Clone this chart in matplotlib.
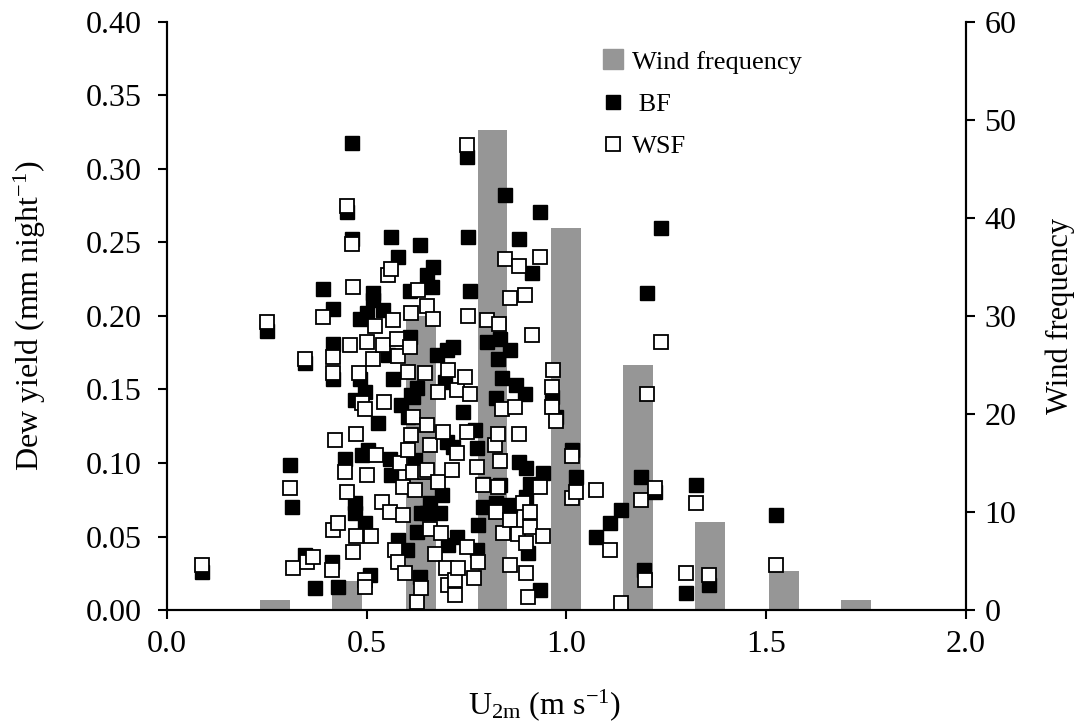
import numpy as np
import matplotlib
matplotlib.use('Agg')
import matplotlib.pyplot as plt
from matplotlib.lines import Line2D

# ── data ──
# wind frequency histogram (right axis)
wind_bins = [0.27, 0.45, 0.635, 0.815, 1.0, 1.18, 1.36, 1.545, 1.725]
wind_freq = [1, 3, 30, 49, 39, 25, 9, 4, 1]

# dew yield, BF (black squares)
bf_u = [0.087, 0.251, 0.308, 0.312, 0.345, 0.345, 0.37, 0.391, 0.412, 0.416,
        0.416, 0.416, 0.429, 0.446, 0.45, 0.462, 0.462, 0.47, 0.47, 0.47,
        0.483, 0.483, 0.487, 0.496, 0.496, 0.5, 0.504, 0.508, 0.516, 0.516,
        0.529, 0.541, 0.554, 0.558, 0.562, 0.562, 0.566, 0.579, 0.579, 0.587,
        0.6, 0.604, 0.608, 0.608, 0.612, 0.617, 0.62, 0.625, 0.625, 0.633,
        0.633, 0.637, 0.65, 0.65, 0.658, 0.663, 0.667, 0.675, 0.683, 0.688,
        0.696, 0.70, 0.70, 0.704, 0.717, 0.717, 0.725, 0.742, 0.75, 0.754,
        0.758, 0.771, 0.775, 0.775, 0.779, 0.792, 0.792, 0.8, 0.825, 0.825,
        0.829, 0.834, 0.834, 0.838, 0.846, 0.859, 0.859, 0.875, 0.882, 0.882,
        0.896, 0.9, 0.9, 0.904, 0.909, 0.915, 0.934, 0.934, 0.942, 0.963,
        0.975, 1.015, 1.024, 1.075, 1.109, 1.136, 1.188, 1.194, 1.202, 1.221,
        1.236, 1.3, 1.324, 1.357, 1.526]
bf_dew = [0.026, 0.190, 0.0986, 0.0703, 0.168, 0.0374, 0.0147, 0.218, 0.0329, 0.2045,
          0.181, 0.157, 0.0159, 0.103, 0.271, 0.3175, 0.252, 0.0726, 0.0658, 0.143,
          0.198, 0.157, 0.1054, 0.1485, 0.059, 0.2017, 0.109, 0.0238, 0.2154, 0.211,
          0.127, 0.204, 0.1735, 0.103, 0.254, 0.0918, 0.157, 0.24, 0.0476, 0.1395,
          0.0408, 0.1315, 0.2167, 0.186, 0.146, 0.145, 0.102, 0.151, 0.0533, 0.248,
          0.0227, 0.066, 0.228, 0.0658, 0.0726, 0.22, 0.2336, 0.1735, 0.0658, 0.0782,
          0.155, 0.177, 0.1145, 0.0442, 0.179, 0.111, 0.05, 0.135, 0.308, 0.254,
          0.2167, 0.1224, 0.11, 0.0408, 0.0578, 0.0703, 0.086, 0.1825, 0.144, 0.0726,
          0.171, 0.184, 0.085, 0.1576, 0.282, 0.177, 0.0714, 0.153, 0.252, 0.101,
          0.147, 0.0964, 0.077, 0.0386, 0.086, 0.229, 0.271, 0.0136, 0.093, 0.145,
          0.131, 0.109, 0.0907, 0.05, 0.059, 0.068, 0.0907, 0.027, 0.2154, 0.08,
          0.26, 0.0118, 0.085, 0.017, 0.0646]

# dew yield, WSF (white squares)
wsf_u = [0.087, 0.251, 0.308, 0.316, 0.345, 0.35, 0.366, 0.391, 0.412, 0.416,
         0.416, 0.416, 0.42, 0.429, 0.446, 0.45, 0.45, 0.458, 0.462, 0.465,
         0.466, 0.473, 0.473, 0.481, 0.487, 0.496, 0.496, 0.496, 0.5, 0.5,
         0.51, 0.516, 0.521, 0.523, 0.537, 0.541, 0.543, 0.554, 0.558, 0.562,
         0.566, 0.571, 0.575, 0.579, 0.579, 0.583, 0.592, 0.592, 0.596, 0.604,
         0.604, 0.608, 0.612, 0.612, 0.617, 0.617, 0.62, 0.625, 0.629, 0.637,
         0.646, 0.646, 0.65, 0.65, 0.65, 0.658, 0.658, 0.665, 0.671, 0.679,
         0.679, 0.687, 0.692, 0.698, 0.704, 0.704, 0.713, 0.721, 0.721, 0.725,
         0.725, 0.729, 0.746, 0.75, 0.75, 0.75, 0.754, 0.758, 0.768, 0.775,
         0.779, 0.792, 0.8, 0.821, 0.825, 0.829, 0.829, 0.832, 0.834, 0.838,
         0.842, 0.846, 0.859, 0.859, 0.859, 0.871, 0.879, 0.882, 0.882, 0.892,
         0.896, 0.9, 0.9, 0.904, 0.909, 0.909, 0.915, 0.934, 0.934, 0.942,
         0.963, 0.963, 0.967, 0.975, 1.013, 1.015, 1.024, 1.075, 1.109, 1.136,
         1.188, 1.196, 1.202, 1.221, 1.236, 1.3, 1.324, 1.357, 1.526]
wsf_dew = [0.0306, 0.196, 0.0828, 0.0284, 0.171, 0.0329, 0.0363, 0.1995, 0.0272, 0.172,
           0.161, 0.0544, 0.1156, 0.059, 0.094, 0.275, 0.0805, 0.180, 0.249, 0.220,
           0.0397, 0.12, 0.0503, 0.161, 0.1406, 0.137, 0.0204, 0.0159, 0.182, 0.0918,
           0.0503, 0.171, 0.193, 0.1054, 0.0737, 0.180, 0.1413, 0.228, 0.0669, 0.2317,
           0.197, 0.0408, 0.184, 0.1728, 0.0329, 0.0998, 0.084, 0.0646, 0.025, 0.162,
           0.109, 0.179, 0.202, 0.119, 0.1315, 0.094, 0.0816, 0.0056, 0.2177, 0.0147,
           0.161, 0.094, 0.2068, 0.1258, 0.0952, 0.112, 0.0549, 0.198, 0.038, 0.1485,
           0.0873, 0.0522, 0.1214, 0.0284, 0.163, 0.017, 0.0952, 0.0204, 0.0102, 0.1497,
           0.1066, 0.0284, 0.1587, 0.316, 0.1214, 0.0431, 0.2, 0.147, 0.0215, 0.0975,
           0.0329, 0.085, 0.197, 0.112, 0.0669, 0.12, 0.0839, 0.1946, 0.1014, 0.137,
           0.0526, 0.239, 0.212, 0.0612, 0.0306, 0.138, 0.0517, 0.234, 0.12, 0.0726,
           0.214, 0.0454, 0.0254, 0.009, 0.0669, 0.0567, 0.187, 0.24, 0.0839, 0.0503,
           0.152, 0.1384, 0.163, 0.1286, 0.076, 0.105, 0.0805, 0.0816, 0.0408, 0.0045,
           0.0748, 0.0204, 0.147, 0.0828, 0.182, 0.0254, 0.0726, 0.0238, 0.0306]

# ── style ──
plt.rcParams.update({
    'font.family': ['Liberation Serif', 'DejaVu Serif'],
    'mathtext.fontset': 'custom',
    'mathtext.rm': 'Liberation Serif',
    'mathtext.it': 'Liberation Serif:italic',
    'font.size': 23,
    'axes.linewidth': 1.5,
})

BAR_COLOR = '#969696'

fig = plt.figure(figsize=(10.85, 7.28), dpi=100)
ax = fig.add_axes([0.154, 0.162, 0.736, 0.808])
ax2 = ax.twinx()

# bars on the right axis, drawn below the scatter
ax2.bar(wind_bins, wind_freq, width=0.075, color=BAR_COLOR, linewidth=0)
ax2.set_ylim(0, 60)
ax2.set_yticks(np.arange(0, 61, 10))
ax2.set_ylabel('Wind frequency', fontsize=22, labelpad=21)

ax.set_zorder(ax2.get_zorder() + 1)
ax.patch.set_visible(False)

ms = 9.8
ax.plot(bf_u, bf_dew, 's', color='black', markersize=ms,
        markeredgecolor='black', markeredgewidth=1.0, linestyle='none')
ax.plot(wsf_u, wsf_dew, 's', markerfacecolor='white', markersize=ms,
        markeredgecolor='black', markeredgewidth=1.3, linestyle='none')

ax.set_xlim(0, 2.0)
ax.set_ylim(0, 0.40)
ax.set_xticks(np.arange(0, 2.01, 0.5))
ax.set_xticklabels([f'{v:.1f}' for v in np.arange(0, 2.01, 0.5)])
ax.set_yticks(np.arange(0, 0.401, 0.05))
ax.set_yticklabels([f'{v:.2f}' for v in np.arange(0, 0.401, 0.05)])
ax.set_ylabel(r'Dew yield (mm night$^{-1}$)', labelpad=27)
ax.set_xlabel(r'U$_{\rm 2m}$ (m s$^{-1}$)')
ax.xaxis.set_label_coords(0.472, -0.132)

for a in (ax, ax2):
    a.spines['top'].set_visible(False)
    a.tick_params(direction='out', length=6.5, width=1.5, labelsize=23)
ax.tick_params(axis='x', pad=8)
ax.tick_params(axis='y', pad=12)
ax2.tick_params(axis='y', pad=7)

# legend
handles = [
    Line2D([0], [0], marker='s', color='none', markerfacecolor=BAR_COLOR,
           markeredgecolor=BAR_COLOR, markersize=14, label='Wind frequency'),
    Line2D([0], [0], marker='s', color='none', markerfacecolor='black',
           markeredgecolor='black', markersize=10, label=' BF'),
    Line2D([0], [0], marker='s', color='none', markerfacecolor='white',
           markeredgecolor='black', markeredgewidth=1.3, markersize=9.5, label='WSF'),
]
ax.legend(handles=handles, loc='upper left', bbox_to_anchor=(0.532, 0.97),
          frameon=False, fontsize=19, handlelength=0.8, handletextpad=0.3,
          labelspacing=0.72, borderaxespad=0)

fig.savefig('out.png', dpi=100, facecolor='white')
